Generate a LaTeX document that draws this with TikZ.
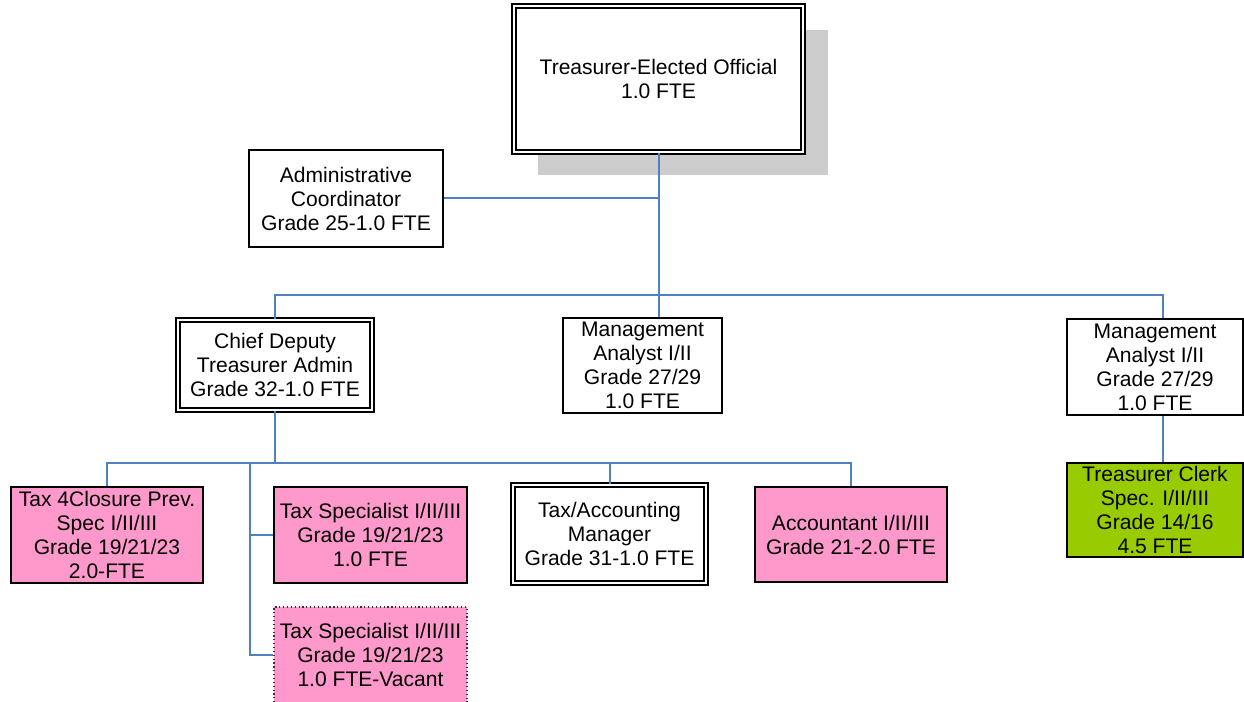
\documentclass[tikz,border=0pt]{standalone}
\usepackage{fontspec}
\setmainfont{Liberation Sans}
\usepackage{xcolor}
\usetikzlibrary{positioning,calc}
\definecolor{chartblue} {RGB}{79,129,189}
\definecolor{chartpink} {RGB}{255,153,204}
\definecolor{chartgreen}{RGB}{153,204,0}
\definecolor{chartshade}{RGB}{204,204,204}
\def\px{0.75pt}
\begin{document}
\begin{tikzpicture}[
  x=0.75pt,y=-0.75pt,
  box/.style={draw=black,line width=1.4pt,fill=white,inner sep=0pt,
              align=center,font=\fontsize{15.8}{18}\selectfont},
  dbox/.style={box,double,line width=1.2pt,double distance=1.8pt},
  pinkbox/.style={box,fill=chartpink},
  vacantbox/.style={box,fill=chartpink,draw=black!80,line width=0.9pt,dotted},
  clerkbox/.style={box,fill=chartgreen},
  link/.style={draw=chartblue,line width=1.5pt},
]
\useasboundingbox (0,0) rectangle (1244,702);

%% Top: elected official with shadow
\fill[chartshade] (538,30) rectangle (828,175);
\node[dbox,minimum width=289*\px,minimum height=146*\px] (treas) at (658.5,79)
  {Treasurer-Elected Official\\1.0 FTE};

%% Staff and second level
\node[box,minimum width=194*\px,minimum height=97*\px] (admin) at (346,198.5)
  {Administrative\\Coordinator\\Grade 25-1.0 FTE};
\node[dbox,minimum width=194*\px,minimum height=90*\px] (chief) at (275,365)
  {Chief Deputy\\Treasurer Admin\\Grade 32-1.0 FTE};
\node[box,minimum width=159*\px,minimum height=95*\px] (mgmtM) at (642.5,365.5)
  {Management\\Analyst I/II\\Grade 27/29\\1.0 FTE};
\node[box,minimum width=176*\px,minimum height=96*\px] (mgmtR) at (1155,367)
  {Management\\Analyst I/II\\Grade 27/29\\1.0 FTE};

%% Third level
\node[pinkbox,minimum width=192*\px,minimum height=96*\px] (closure) at (107,535)
  {Tax 4Closure Prev.\\Spec I/II/III\\Grade 19/21/23\\2.0-FTE};
\node[pinkbox,minimum width=193*\px,minimum height=96*\px] (taxspec) at (370.5,535)
  {Tax Specialist I/II/III\\Grade 19/21/23\\1.0 FTE};
\node[vacantbox,minimum width=193*\px,minimum height=96*\px] (vacant) at (370.5,655)
  {Tax Specialist I/II/III\\Grade 19/21/23\\1.0 FTE-Vacant};
\node[dbox,minimum width=193*\px,minimum height=98*\px] (taxacc) at (609.5,534)
  {Tax/Accounting\\Manager\\Grade 31-1.0 FTE};
\node[pinkbox,minimum width=192*\px,minimum height=95*\px] (acct) at (851,534.5)
  {Accountant I/II/III\\Grade 21-2.0 FTE};
\node[clerkbox,minimum width=176*\px,minimum height=94*\px] (clerk) at (1155,510)
  {Treasurer Clerk\\Spec. I/II/III\\Grade 14/16\\4.5 FTE};

%% Bus points
\coordinate (bus1) at (658,295);
\coordinate (dropR) at (1163,295);
\coordinate (bus2) at (275,463);
\coordinate (spine) at (250,463);

%% Connectors
\draw[link] (treas.south) -- (treas.south |- mgmtM.north);
\draw[link] (admin.east) -- (admin.east -| treas.south);
\draw[link] (chief.north) |- (dropR) -- (dropR |- mgmtR.north);
\draw[link] (dropR |- mgmtR.south) -- (dropR |- clerk.north);
\draw[link] (chief.south) -- (bus2);
\draw[link] (closure.north) |- (acct.north |- bus2) -- (acct.north);
\draw[link] (taxacc.north |- bus2) -- (taxacc.north);
\draw[link] (spine) |- (taxspec.west);
\draw[link] (spine) |- (vacant.west);

\end{tikzpicture}
\end{document}
